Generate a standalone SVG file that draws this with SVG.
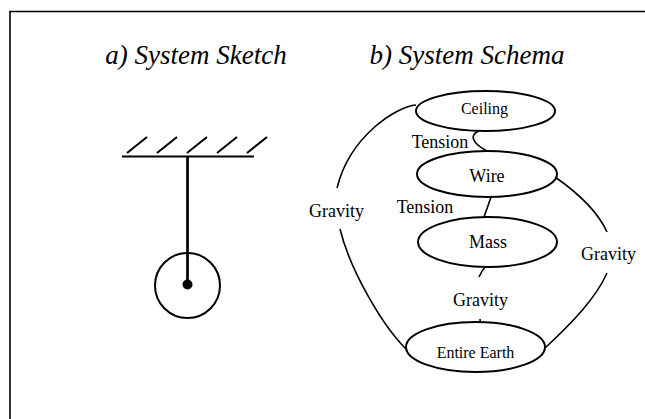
<svg xmlns="http://www.w3.org/2000/svg" width="645" height="419" viewBox="0 0 645 419">
<style>
text{font-family:"Liberation Serif","Times New Roman",serif;fill:#000}
.h{font-size:27px;font-style:italic;text-anchor:middle}
.lbl{font-size:18px;text-anchor:middle}
.nt{text-anchor:middle}
.node ellipse{fill:#fff;stroke:#000;stroke-width:2}
.edge path{fill:none;stroke:#000;stroke-width:1.6}
.sk{fill:none;stroke:#000;stroke-width:2}
</style>
<rect x="0" y="0" width="645" height="419" fill="#fff"/>
<path d="M10,419 V11.5 H645" fill="none" stroke="#000" stroke-width="1.6"/>
<text class="h" x="196" y="64">a) System Sketch</text>
<text class="h" x="467" y="64">b) System Schema</text>
<g id="sketch">
<path class="sk" d="M127,153 L147,137 M157,153 L177,137 M187,153 L207,137 M217,153 L237,137 M247,153 L267,137"/>
<path class="sk" d="M122,156.5 H254" stroke-width="2.5"/>
<path d="M187.5,156 V285" stroke="#000" stroke-width="2.7" fill="none"/>
<circle cx="187.5" cy="285.5" r="32.5" class="sk"/>
<circle cx="187.5" cy="284.5" r="5" fill="#000"/>
</g>
<g id="connectors">
<g class="edge" id="e-ceiling-wire"><path d="M479,131 C469,135 472,143 487,151"/><text class="lbl" x="440" y="148">Tension</text></g>
<g class="edge" id="e-wire-mass"><path d="M491,197 Q488,206 484,217"/><text class="lbl" x="425" y="213">Tension</text></g>
<g class="edge" id="e-ceiling-earth"><path d="M416,105 C398,106 350,135 337,188"/><path d="M340,229 C350,270 382,325 406,349"/><text class="lbl" x="336.5" y="217">Gravity</text></g>
<g class="edge" id="e-wire-earth"><path d="M555,177 C578,193 598,212 607,232"/><path d="M607,273 C596,298 572,323 545,348"/><text class="lbl" x="608.5" y="260">Gravity</text></g>
<g class="edge" id="e-mass-earth"><path d="M486,266 Q482,270 479,277"/><path d="M480,319 L480.5,324"/><text class="lbl" x="480.5" y="306">Gravity</text></g>
</g>
<g id="ceiling" class="node"><ellipse cx="485.5" cy="111" rx="69.5" ry="20"/><text class="nt" x="484.5" y="114" font-size="16">Ceiling</text></g>
<g id="wire" class="node"><ellipse cx="487" cy="174" rx="70" ry="23"/><text class="nt" x="487" y="182" font-size="18">Wire</text></g>
<g id="mass" class="node"><ellipse cx="487.5" cy="242" rx="69.5" ry="25"/><text class="nt" x="488" y="248" font-size="18">Mass</text></g>
<g id="earth" class="node"><ellipse cx="475.5" cy="347" rx="69.5" ry="25"/><text class="nt" x="475.5" y="358" font-size="16">Entire Earth</text></g>
</svg>
